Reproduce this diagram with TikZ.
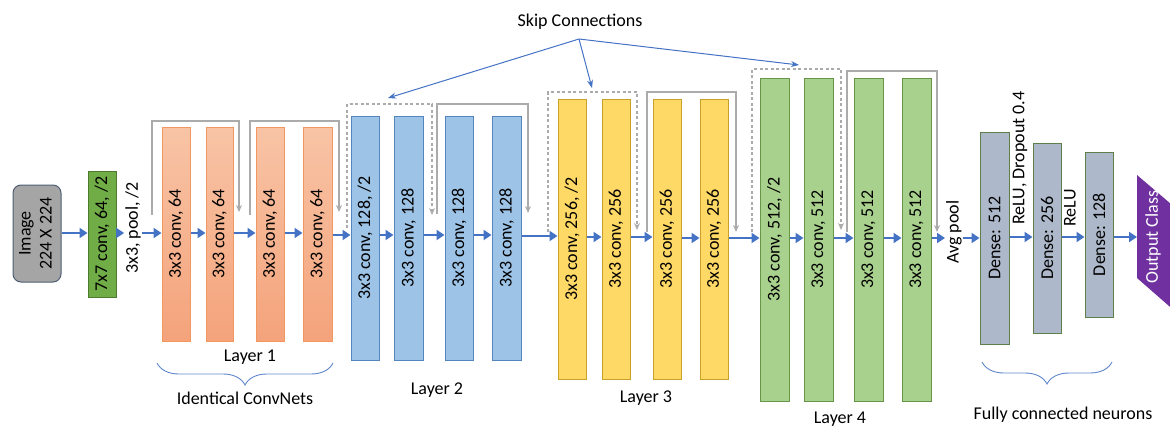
\documentclass[tikz,border=0pt]{standalone}
\usepackage{fontspec}
\setmainfont{Carlito}
\usetikzlibrary{arrows.meta,decorations.pathreplacing,calc}
\definecolor{ablue}{HTML}{4472C4}
\definecolor{sgrey}{HTML}{ABABAB}
\definecolor{imgfill}{HTML}{A5A5A5}
\definecolor{imgline}{HTML}{4F5D73}
\definecolor{c7fill}{HTML}{70AD47}
\definecolor{c7line}{HTML}{4E7A2E}
\definecolor{orT}{HTML}{F8C4A6}
\definecolor{orB}{HTML}{F4A37B}
\definecolor{orline}{HTML}{F2975F}
\definecolor{blfill}{HTML}{9DC3E6}
\definecolor{blline}{HTML}{5585BE}
\definecolor{yefill}{HTML}{FFD966}
\definecolor{yeline}{HTML}{C9A02A}
\definecolor{grfill}{HTML}{A9D18E}
\definecolor{grline}{HTML}{679649}
\definecolor{dnfill}{HTML}{ADB9CA}
\definecolor{dnline}{HTML}{5E7E4A}
\definecolor{outfill}{HTML}{7030A0}
\newcommand\blk[7]{\node[#2, minimum width={#5-#3}, minimum height={#6-#4}] (#1) at ({(#3+#5)/2},{(#4+#6)/2}) {\rotatebox{90}{#7}};}
\newcommand\arr[3]{\draw[mainarrow] (#1.east |- 0,#3) -- (#2.west |- 0,#3);}
\newcommand\skl[7]{\coordinate (#2a) at (#3,#6); \coordinate (#2b) at (#4,#7); \draw[#1] (#2a) |- (#4,#5) -- (#2b);}
\tikzset{
  bx/.style={draw, line width=1pt, inner sep=0pt},
  orbox/.style={bx, draw=orline, top color=orT, bottom color=orB},
  blbox/.style={bx, draw=blline, fill=blfill},
  yebox/.style={bx, draw=yeline, fill=yefill},
  grbox/.style={bx, draw=grline, fill=grfill},
  dnbox/.style={bx, draw=dnline, fill=dnfill},
  c7box/.style={bx, draw=c7line, fill=c7fill},
  imgbox/.style={bx, draw=imgline, fill=imgfill, rounded corners=8pt},
  mainarrow/.style={draw=ablue, line width=2.8pt, -{Triangle[length=8pt,width=10pt]}},
  skipsolid/.style={draw=sgrey, line width=1.3pt, -{Stealth[length=7pt,width=6pt]}},
  skipdash/.style={skipsolid, dash pattern=on 3pt off 2.5pt},
  sclink/.style={draw=ablue, line width=1pt, -{Stealth[length=8pt,width=6pt]}},
  brc/.style={draw=ablue!85, line width=0.9pt, decorate, decoration={brace, mirror, amplitude=22pt}},
  lbl/.style={inner sep=1pt, text=black},
}
\begin{document}
\begin{tikzpicture}[x=1pt,y=-1pt, font=\fontsize{18}{21}\selectfont]
\useasboundingbox (0,0) rectangle (1170,431);
\clip (0,0) rectangle (1170,431);

% input
\node[imgbox, minimum width=48, minimum height=97] (img) at (37,233.5)
  {\rotatebox{90}{\begin{tabular}{@{}c@{}}Image\\224 X 224\end{tabular}}};
\blk{c7}{c7box}{88}{171}{116}{297}{7x7 conv, 64, /2}
\node[lbl] (pool) at (133,228) {\rotatebox{90}{3x3, pool, /2}};

% layer 1
\blk{la}{orbox}{162}{127}{190}{341}{3x3 conv, 64}
\blk{lb}{orbox}{206}{127}{233}{341}{3x3 conv, 64}
\blk{lc}{orbox}{256}{127}{284}{341}{3x3 conv, 64}
\blk{ld}{orbox}{303}{127}{332}{341}{3x3 conv, 64}
% layer 2
\blk{ma}{blbox}{351}{116}{379}{360}{3x3 conv, 128, /2}
\blk{mb}{blbox}{394}{116}{423}{360}{3x3 conv, 128}
\blk{mc}{blbox}{445}{116}{473}{360}{3x3 conv, 128}
\blk{md}{blbox}{492}{116}{521}{360}{3x3 conv, 128}
% layer 3
\blk{na}{yebox}{558}{99}{586}{379}{3x3 conv, 256, /2}
\blk{nb}{yebox}{602}{99}{630}{379}{3x3 conv, 256}
\blk{nc}{yebox}{653}{99}{681}{379}{3x3 conv, 256}
\blk{nd}{yebox}{700}{99}{728}{379}{3x3 conv, 256}
% layer 4
\blk{pa}{grbox}{760}{78}{789}{401}{3x3 conv, 512, /2}
\blk{pb}{grbox}{804}{78}{833}{401}{3x3 conv, 512}
\blk{pc}{grbox}{854}{78}{883}{401}{3x3 conv, 512}
\blk{pd}{grbox}{902}{78}{931}{401}{3x3 conv, 512}
\node[lbl] (avg) at (954,232) {\rotatebox{90}{Avg pool}};
% dense
\blk{da}{dnbox}{980}{132}{1009}{344}{Dense: 512}
\blk{db}{dnbox}{1033}{143}{1061}{333}{Dense: 256}
\blk{dc}{dnbox}{1085}{152}{1113}{317}{Dense: 128}
\node[lbl] (r1) at (1020,158) {\rotatebox{90}{ReLU, Dropout 0.4}};
\node[lbl] (r2) at (1070,208) {\rotatebox{90}{ReLU}};
% output
\fill[outfill] (1137,175) -- (1137,278) -- (1185,320) -- (1185,216) -- cycle;
\node[lbl, text=white] (out) at (1153,237) {\rotatebox{90}{Output Class}};
\coordinate (outw) at (1137,237);

% main arrows
\arr{img}{c7}{233}
\arr{c7}{pool}{233}
\arr{pool}{la}{233}
\arr{la}{lb}{233}
\arr{lb}{lc}{233}
\arr{lc}{ld}{233}
\arr{ld}{ma}{235}
\arr{ma}{mb}{235}
\arr{mb}{mc}{235}
\arr{mc}{md}{235}
\arr{md}{na}{236}
\arr{na}{nb}{237}
\arr{nb}{nc}{237}
\arr{nc}{nd}{238}
\arr{nd}{pa}{238}
\arr{pa}{pb}{238}
\arr{pb}{pc}{238}
\arr{pc}{pd}{238}
\arr{pd}{avg}{238}
\arr{avg}{da}{238}
\arr{da}{db}{237}
\arr{db}{dc}{237}
\draw[mainarrow] (dc.east |- outw) -- (outw);

% skip loops
\skl{skipsolid}{s1}{152}{239}{121}{215}{212}
\skl{skipsolid}{s2}{250}{339}{121}{215}{212}
\skl{skipdash}{s3}{347}{432}{104}{228}{215}
\skl{skipsolid}{s4}{437}{528}{104}{214}{213}
\skl{skipdash}{s5}{548}{637}{92}{232}{230}
\skl{skipsolid}{s6}{647}{736}{92}{232}{232}
\skl{skipdash}{s7}{752}{841}{69}{232}{230}
\skl{skipsolid}{s8}{847}{937}{71}{232}{232}

% skip connections label
\node[lbl] (skip) at (580,22) {Skip Connections};
\coordinate (sc) at (579,39);
\coordinate (t1) at (388,98);
\coordinate (t2) at (592,88);
\coordinate (t3) at (799,65);
\draw[sclink] (sc) -- (t1);
\draw[sclink] (sc) -- (t2);
\draw[sclink] (sc) -- (t3);

% layer labels
\node[lbl] (l1) at (250,357) {Layer 1};
\node[lbl] (l2) at (437,390) {Layer 2};
\node[lbl] (l3) at (646,398) {Layer 3};
\node[lbl] (l4) at (840,419) {Layer 4};
\coordinate (b1a) at (157,363);
\coordinate (b1b) at (333,363);
\draw[brc] (b1a) -- (b1b);
\node[lbl] (ident) at (245,398) {Identical ConvNets};
\coordinate (b2a) at (982,362);
\coordinate (b2b) at (1112,362);
\draw[brc] (b2a) -- (b2b);
\node[lbl] (fc) at (1063,415) {Fully connected neurons};
\end{tikzpicture}
\end{document}
